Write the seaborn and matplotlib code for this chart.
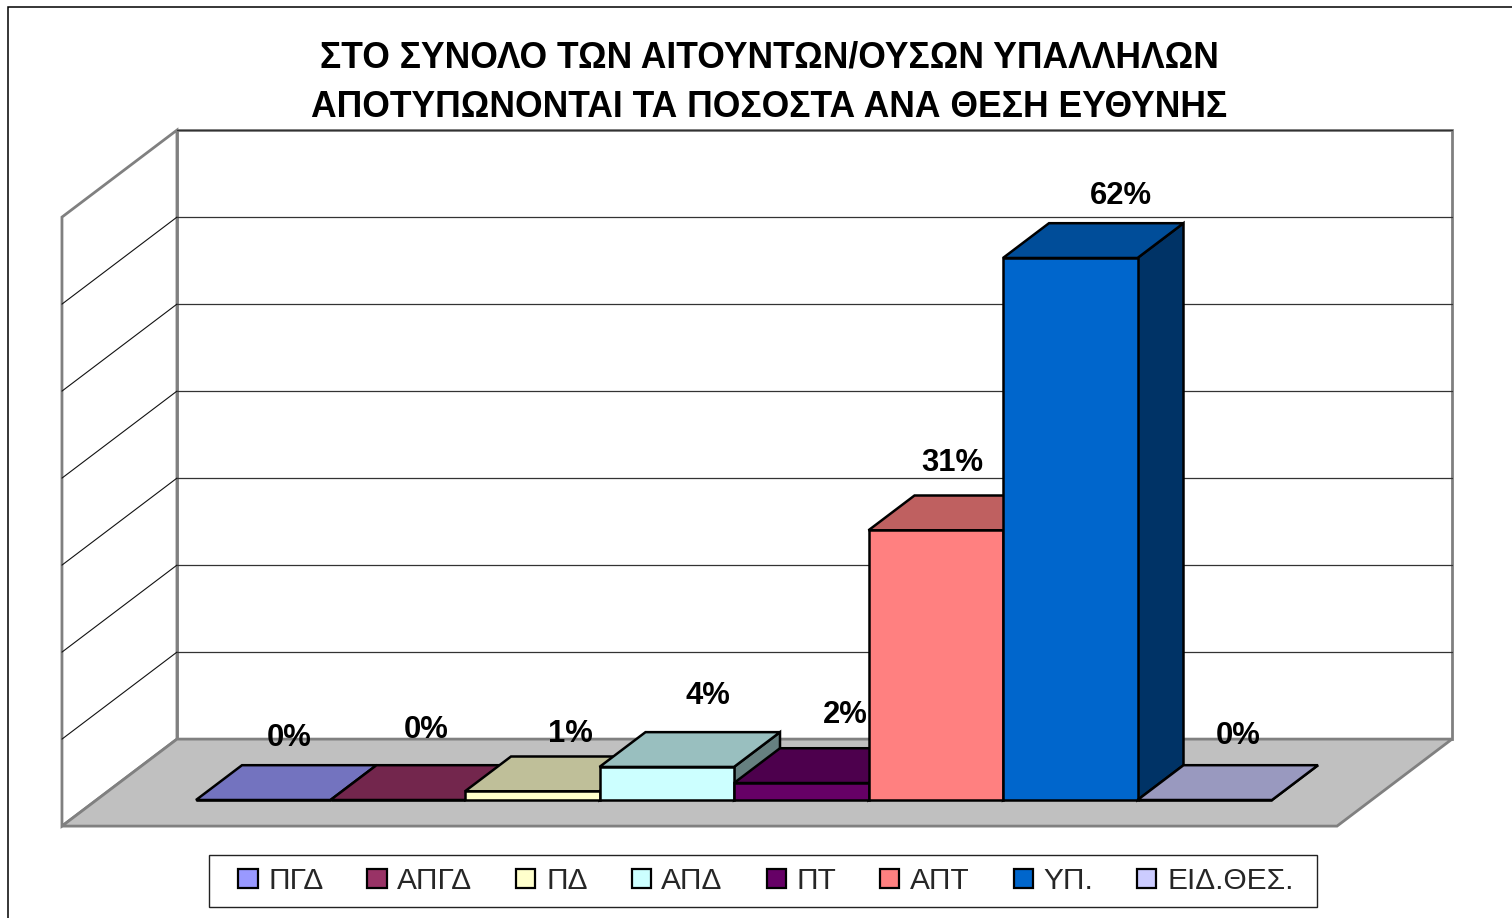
import seaborn as sns
import matplotlib.pyplot as plt
from matplotlib.colors import to_rgb
from matplotlib.patches import Patch, Polygon, Rectangle

# Data
categories = ['ΠΓΔ', 'ΑΠΓΔ', 'ΠΔ', 'ΑΠΔ', 'ΠΤ', 'ΑΠΤ', 'ΥΠ.', 'ΕΙΔ.ΘΕΣ.']
values = [0, 0, 1.0, 3.8, 1.95, 31.0, 62.3, 0]
colors = ['#9999FF', '#993366', '#FFFFCC', '#CCFFFF', '#660066', '#FF8080', '#0066CC', '#CCCCFF']
grid_values = [0, 10, 20, 30, 40, 50, 60, 70]
title = 'ΣΤΟ ΣΥΝΟΛΟ ΤΩΝ ΑΙΤΟΥΝΤΩΝ/ΟΥΣΩΝ ΥΠΑΛΛΗΛΩΝ\nΑΠΟΤΥΠΩΝΟΝΤΑΙ ΤΑ ΠΟΣΟΣΤΑ ΑΝΑ ΘΕΣΗ ΕΥΘΥΝΗΣ'

# Label nudges (pixels from the top of each bar front)
label_nudge = [(26, 62), (28, 70), (38, 57), (41, 71), (44, 68), (17, 67), (51, 62), (33, 64)]

W, H = 1512, 918
sns.set_style('white')
plt.rcParams['font.family'] = ['Liberation Sans', 'DejaVu Sans']

fig = plt.figure(figsize=(W / 100, H / 100), dpi=100, facecolor='white')
ax = fig.add_axes([0, 0, 1, 1])

sns.barplot(x=categories, y=values, hue=categories, palette=colors, dodge=False, width=1, saturation=1,
            legend=False, edgecolor='black', linewidth=1.8, ax=ax)

# The axes fill the figure, so 1 category = 134.5 px and 1 % = 8.7 px
ax.set_xlim(-0.5 - 196 / 134.5, -0.5 + (W - 196) / 134.5)
ax.set_ylim((800 - H) / 8.7, 800 / 8.7)
ax.axis('off')

# Oblique projection: depth 1 moves 115 px right and 87 px up
depth_x = 115 / 134.5
depth_y = 10.0


def project(x, y, depth):
    return (x + depth * depth_x, y + depth * depth_y)


floor_left, floor_right = -1.24, 8.24
floor_front, floor_back = -0.3, 0.7
bar_back = 0.4
wall_gray = '#808080'
wall_top = grid_values[-1]

# Back wall, left wall and floor
ax.add_patch(Polygon([project(floor_left, 0, floor_back), project(floor_right, 0, floor_back),
                      project(floor_right, wall_top, floor_back), project(floor_left, wall_top, floor_back)],
                     facecolor='white', edgecolor=wall_gray, linewidth=2.0, zorder=1))
ax.add_patch(Polygon([project(floor_left, 0, floor_front), project(floor_left, 0, floor_back),
                      project(floor_left, wall_top, floor_back), project(floor_left, wall_top, floor_front)],
                     facecolor='white', edgecolor=wall_gray, linewidth=2.0, zorder=1))
ax.add_patch(Polygon([project(floor_left, 0, floor_front), project(floor_right, 0, floor_front),
                      project(floor_right, 0, floor_back), project(floor_left, 0, floor_back)],
                     facecolor='#C0C0C0', edgecolor=wall_gray, linewidth=2.0, zorder=2))

for g in grid_values[1:]:
    x0, y0 = project(floor_left, g, floor_front)
    x1, y1 = project(floor_left, g, floor_back)
    x2, y2 = project(floor_right, g, floor_back)
    if g < wall_top:
        ax.plot([x0, x1], [y0, y1], color='#111111', linewidth=0.8, zorder=3)
    ax.plot([x1, x2], [y1, y2], color='#333333', linewidth=0.9, zorder=3)


def shade(color, factor):
    return tuple(c * factor for c in to_rgb(color))


# Each bar gets a side, a top and a label, painted left to right
for i, (bar, value, color) in enumerate(zip(ax.patches, values, colors)):
    x0 = bar.get_x()
    x1 = x0 + bar.get_width()
    top = bar.get_height()
    z = 5 + i
    bar.set_zorder(z + 0.2)
    bar.set_joinstyle('miter')
    ax.add_patch(Polygon([project(x1, 0, 0), project(x1, 0, bar_back), project(x1, top, bar_back), project(x1, top, 0)],
                         facecolor=shade(color, 0.5), edgecolor='black', linewidth=1.8, zorder=z))
    ax.add_patch(Polygon([project(x0, top, 0), project(x1, top, 0), project(x1, top, bar_back), project(x0, top, bar_back)],
                         facecolor=shade(color, 0.75), edgecolor='black', linewidth=1.8, zorder=z + 0.1))
    nudge = label_nudge[i]
    ax.annotate(f'{value:.0f}%', ((x0 + x1) / 2, top), xytext=(nudge[0] * 0.72, nudge[1] * 0.72),
                textcoords='offset points', ha='center', va='center', fontsize=22.3,
                fontweight='bold', color='black', zorder=z + 0.05)

fig.text(769 / W, 1 - 83 / H, title, ha='center', va='center', fontsize=25.6, fontweight='bold',
         color='black', linespacing=1.52)

# Legend frame is drawn apart, its side padding is wider than the top and bottom padding
ax.add_patch(Rectangle((209 / W, 1 - 907 / H), 1108 / W, 52 / H, transform=fig.transFigure,
                       facecolor='white', edgecolor='#222222', linewidth=1.0, zorder=20))
handles = [Patch(facecolor=c, edgecolor='black', linewidth=1.6, label=n) for n, c in zip(categories, colors)]
leg = ax.legend(handles=handles, ncol=8, loc='center', bbox_to_anchor=(766 / W, 1 - 881 / H),
                bbox_transform=fig.transFigure, fontsize=21.5, frameon=False,
                handlelength=0.64, handleheight=0.64,
                handletextpad=0.36, columnspacing=1.47, borderpad=0, borderaxespad=0)
leg.set_zorder(30)

# Outer chart border runs off the right and bottom edges
fig.add_artist(Rectangle((8 / W, -0.05), 1.1, 1.05 - 7 / H, transform=fig.transFigure, fill=False,
                         edgecolor='black', linewidth=1.1))

fig.savefig('out.png', dpi=100)
plt.close(fig)
